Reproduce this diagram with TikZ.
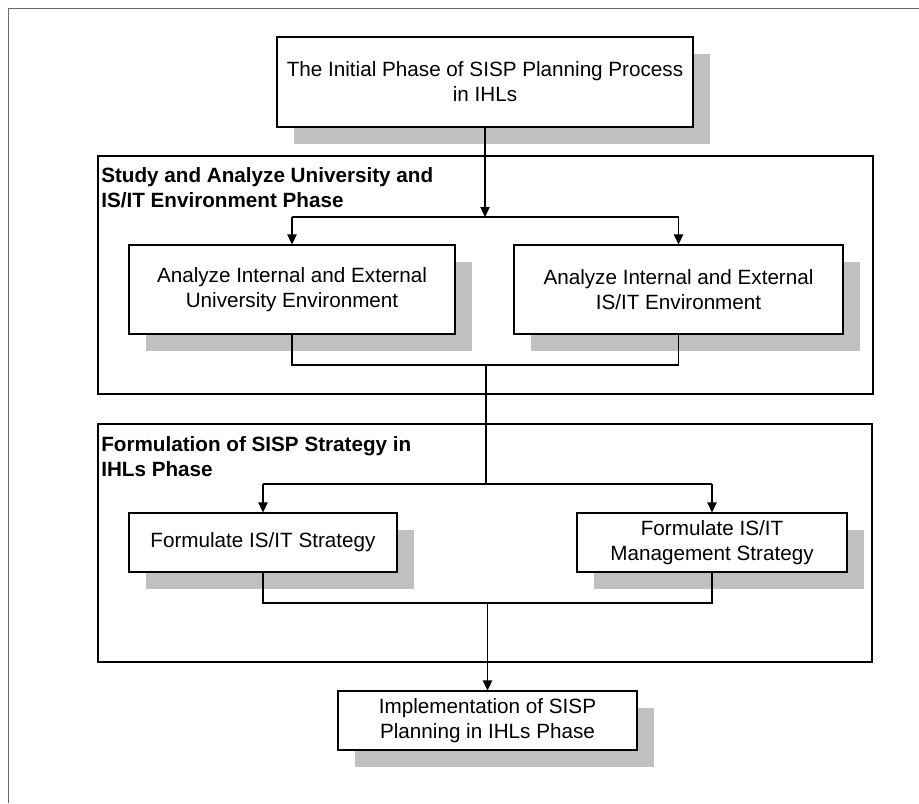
\documentclass[tikz,border=0pt]{standalone}
\usepackage{fontspec}
\setmainfont{Liberation Sans}
\usetikzlibrary{arrows.meta,shadows}
\definecolor{shgray}{RGB}{192,192,192}
\definecolor{outergray}{RGB}{105,105,105}
\begin{document}
\begin{tikzpicture}[x=0.75pt,y=-0.75pt,
  every node/.style={font=\fontsize{15.5pt}{18.75pt}\selectfont},
  box/.style={draw=black, line width=0.8pt, fill=white, align=center, inner sep=0pt,
    drop shadow={shadow xshift=13pt, shadow yshift=-13pt, fill=shgray, opacity=1}},
  frame/.style={draw=black, line width=1.2pt, inner sep=0pt},
  conn/.style={draw=black, line width=0.8pt},
  arr/.style={conn, -{Triangle[length=7.5pt,width=7pt]}},
  title/.style={anchor=north west, inner sep=0pt, align=left,
    font=\fontsize{15.5pt}{18.75pt}\selectfont\bfseries}]
\useasboundingbox (0,0) rectangle (919,803);
\draw[outergray, line width=1.1pt] (8.5,803) -- (8.5,8.5) -- (919,8.5);

% phase frames
\node[frame, minimum width=581.25pt, minimum height=178.5pt] (P1) at (485.5,275) {};
\node[frame, minimum width=580.5pt, minimum height=178.5pt] (P2) at (485,543) {};
\node[title] (T1) at (101,167) {Study and Analyze University and\\IS/IT Environment Phase};
\node[title] (T2) at (101,436) {Formulation of SISP Strategy in\\IHLs Phase};

% boxes
\node[box, minimum width=312pt, minimum height=67.5pt] (top) at (485,82)
  {The Initial Phase of SISP Planning Process\\in IHLs};
\node[box, minimum width=244.5pt, minimum height=66.75pt] (A1) at (292,289.5)
  {Analyze Internal and External\\University Environment};
\node[box, minimum width=246.75pt, minimum height=66.75pt] (A2) at (678.5,289.5)
  {Analyze Internal and External\\IS/IT Environment};
\node[box, minimum width=201pt, minimum height=44.25pt] (F1) at (263,542.5)
  {Formulate IS/IT Strategy};
\node[box, minimum width=202.5pt, minimum height=44.25pt] (F2) at (712,542.5)
  {Formulate IS/IT\\Management Strategy};
\node[box, minimum width=224.25pt, minimum height=44.25pt] (Impl) at (487.5,720.5)
  {Implementation of SISP\\Planning in IHLs Phase};

% junctions
\coordinate (j1) at (485,217);
\coordinate (j2) at (486,365);
\coordinate (j3) at (486,484);
\coordinate (j4) at (487.5,603);

% connectors
\draw[arr] (top.south) -- (j1);
\draw[conn] (A1.north |- j1) -- (A2.north |- j1);
\draw[arr] (A1.north |- j1) -- (A1.north);
\draw[arr] (A2.north |- j1) -- (A2.north);
\draw[conn] (A1.south) -- (A1.south |- j2) -- (A2.south |- j2) -- (A2.south);
\draw[conn] (j2) -- (j3);
\draw[conn] (F1.north |- j3) -- (F2.north |- j3);
\draw[arr] (F1.north |- j3) -- (F1.north);
\draw[arr] (F2.north |- j3) -- (F2.north);
\draw[conn] (F1.south) -- (F1.south |- j4) -- (F2.south |- j4) -- (F2.south);
\draw[arr] (j4) -- (Impl.north);
\end{tikzpicture}
\end{document}
